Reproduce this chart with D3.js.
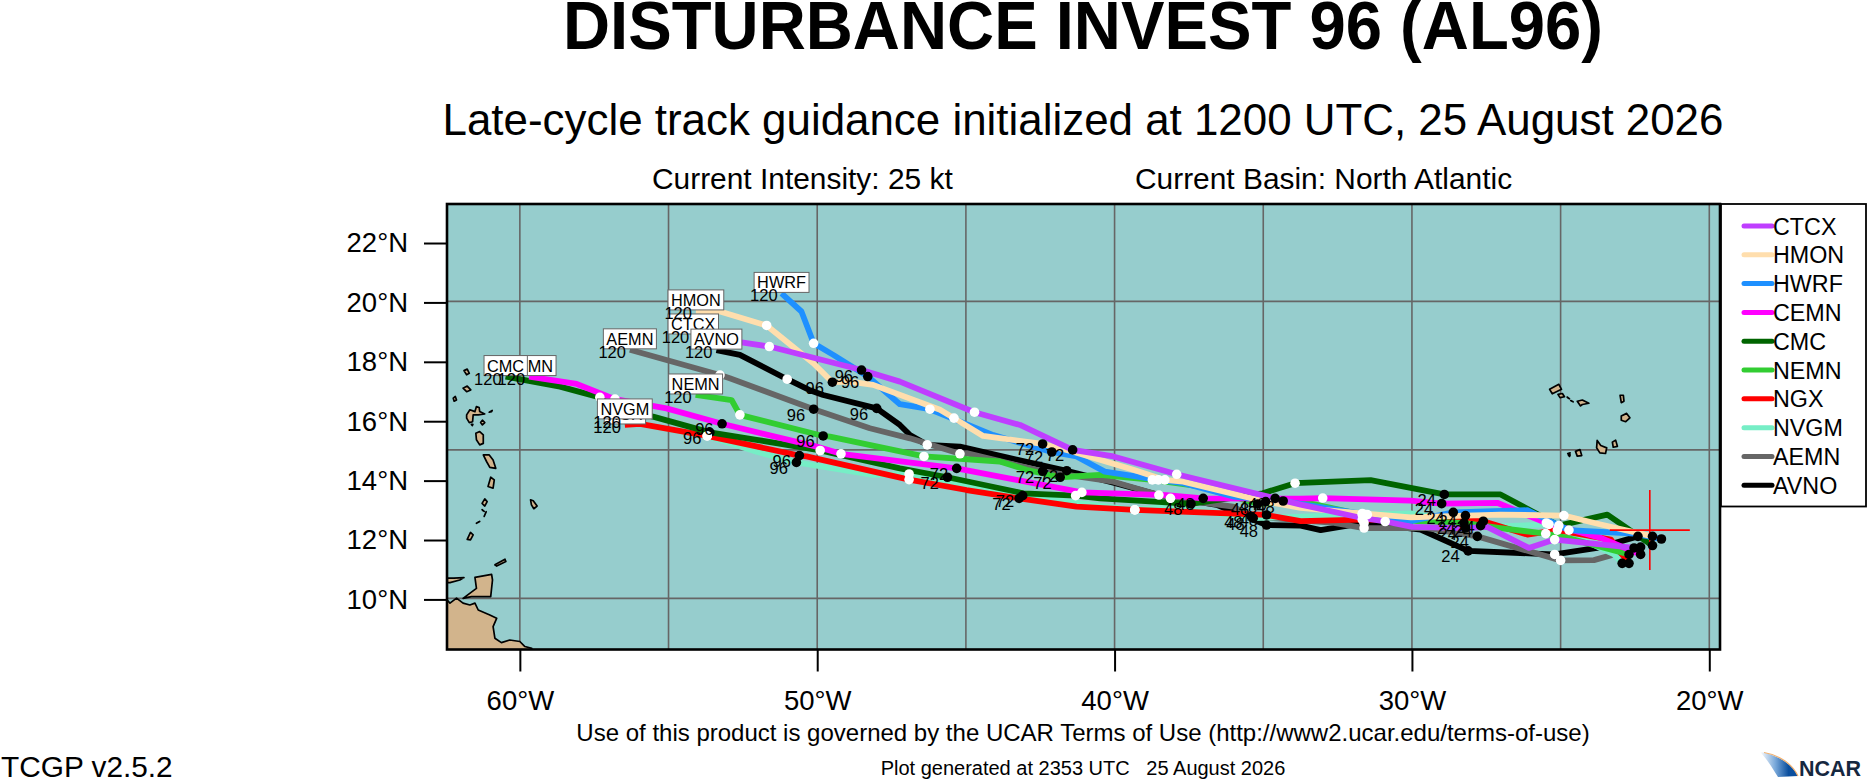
<!DOCTYPE html>
<html>
<head>
<meta charset="utf-8">
<title>DISTURBANCE INVEST 96 (AL96)</title>
<script src="https://cdn.jsdelivr.net/npm/d3@7"></script>
<style>
    html, body { margin: 0; padding: 0; background: #fff; overflow: hidden; }
    text { font-family: "Liberation Sans", Arial, sans-serif; fill: #000; white-space: pre; }
</style>
</head>
<body>
<div id="chart"></div>
<script>
// models, in legend order
const models = ["CTCX", "HMON", "HWRF", "CEMN", "CMC", "NEMN", "NGX", "NVGM", "AEMN", "AVNO"];
const modelColors = ["#bf3eff", "#ffdead", "#1e90ff", "#ff00ff", "#006400", "#32cd32", "#ff0000", "#76eec6", "#666666", "#000000"];

const lonTicks = [-60, -50, -40, -30, -20];
const latTicks = [10, 12, 14, 16, 18, 20, 22];
const lonGrid = [-60, -55, -50, -45, -40, -35, -30, -25, -20];
const latGrid = [10, 15, 20];
const stormCenter = [-22.0, 12.3];

// each track: [forecast hour (null = plain vertex), lon, lat]
const trackCTCX = [[0,-22.53,11.70],[12,-25.2,11.98],[null,-26.07,11.70],[null,-27.47,12.41],[24,-28.2,12.37],[null,-29.99,12.41],[36,-30.9,12.59],[null,-31.84,12.74],[null,-33.74,13.16],[48,-34.6,13.37],[60,-37.91,14.18],[null,-40.04,14.78],[72,-41.41,15.0],[null,-43.18,15.84],[84,-44.71,16.27],[null,-47.22,17.3],[96,-48.51,17.69],[108,-51.61,18.48],[null,-52.49,18.61],[120,-54.17,18.87]];
const trackHMON = [[0,-21.91,12.09],[null,-23.65,12.49],[12,-24.89,12.79],[null,-27.02,12.82],[24,-28.2,12.79],[null,-30.04,12.73],[36,-31.67,12.86],[null,-33.74,13.05],[48,-34.92,13.26],[null,-37.69,13.93],[60,-38.31,13.99],[null,-39.37,14.33],[null,-41.39,14.94],[72,-42.42,15.2],[null,-44.42,15.47],[84,-45.4,16.07],[null,-45.87,16.35],[null,-48.12,17.19],[null,-48.9,17.3],[96,-49.49,17.28],[null,-50.13,17.92],[108,-51.7,19.19],[null,-53.27,19.66],[120,-54.08,19.68]];
const trackHWRF = [[0,-21.61,12.0],[null,-22.53,12.18],[12,-24.72,12.30],[null,-26.12,12.97],[24,-28.61,12.90],[null,-30.04,12.6],[36,-31.5,12.82],[48,-34.33,13.28],[null,-36.01,13.43],[null,-37.69,13.88],[60,-38.53,13.99],[null,-40.33,14.27],[null,-41.28,14.78],[72,-42.11,14.93],[null,-44.08,15.5],[84,-46.21,16.37],[null,-47.22,16.54],[96,-48.3,17.47],[null,-49.46,18.2],[108,-50.12,18.59],[null,-50.53,19.66],[120,-51.2,20.27]];
const trackCEMN = [[0,-22.31,11.48],[null,-23.65,12.04],[12,-25.48,12.54],[null,-27.13,13.22],[24,-29.0,13.19],[null,-30.04,13.29],[36,-33.0,13.38],[null,-33.74,13.36],[48,-37.02,13.37],[null,-38.25,13.48],[60,-41.1,13.57],[null,-43.3,13.99],[72,-45.31,14.38],[84,-49.2,14.87],[null,-50.02,15.11],[96,-53.2,15.88],[null,-55.07,16.4],[108,-56.8,16.71],[null,-58.09,17.22],[120,-59.69,17.47]];
const trackCMC = [[0,-21.91,11.78],[null,-23.43,12.82],[12,-25.06,12.45],[null,-27.02,13.5],[24,-28.91,13.5],[null,-31.39,13.98],[36,-33.93,13.88],[null,-35.02,13.54],[48,-37.43,13.18],[null,-40.49,13.37],[60,-41.31,13.46],[null,-43.07,13.54],[72,-45.62,14.08],[null,-47.22,14.38],[84,-49.9,14.98],[null,-50.36,15.06],[null,-52.04,15.34],[96,-53.61,15.59],[null,-55.52,16.12],[108,-57.31,16.77],[null,-58.65,17.13],[120,-60.48,17.47]];
const trackNEMN = [[0,-22.70,11.48],[null,-24.78,12.04],[12,-25.5,12.18],[null,-27.02,12.37],[24,-28.25,12.54],[null,-29.82,12.6],[36,-31.67,12.82],[null,-33.74,13.27],[48,-35.19,13.18],[null,-37.13,13.77],[60,-38.73,13.99],[null,-40.49,14.16],[72,-41.83,14.08],[null,-42.96,14.33],[null,-43.86,14.61],[84,-46.41,14.78],[null,-49.57,15.45],[96,-49.8,15.47],[null,-52.38,16.12],[108,-52.6,16.18],[null,-52.88,16.68],[120,-54.09,16.85]];
const trackNGX = [[0,-22.70,11.18],[null,-23.31,11.98],[12,-25.11,12.30],[null,-26.12,12.15],[24,-27.6,12.6],[null,-29.82,12.65],[36,-31.67,12.65],[null,-33.74,12.6],[48,-34.89,12.81],[60,-39.32,12.98],[null,-41.28,13.09],[72,-43.21,13.37],[null,-44.98,13.65],[84,-46.91,14.0],[null,-50.36,14.78],[96,-50.6,14.81],[108,-53.7,15.47],[null,-55.96,15.88],[120,-56.47,15.84]];
const trackNVGM = [[0,-22.93,11.18],[null,-23.2,11.48],[12,-25.39,12.49],[null,-26.9,12.43],[24,-27.69,12.45],[null,-30.04,12.86],[36,-31.56,12.82],[48,-35.34,12.7],[null,-38.25,13.09],[60,-39.32,12.98],[null,-41.61,13.26],[72,-43.09,13.46],[84,-46.91,14.19],[null,-48.12,14.16],[null,-50.13,14.49],[96,-50.7,14.58],[null,-52.04,14.94],[108,-53.7,15.47],[null,-55.96,15.88],[120,-56.47,16.01]];
const trackAEMN = [[0,-22.31,11.73],[null,-23.88,11.29],[12,-25.0,11.28],[24,-27.8,12.09],[null,-29.48,12.37],[36,-31.61,12.37],[null,-32.62,12.54],[48,-35.41,12.76],[null,-36.01,13.09],[60,-38.12,13.37],[null,-40.04,13.93],[72,-42.42,14.28],[null,-44.98,14.89],[84,-45.2,14.87],[null,-46.88,15.39],[null,-48.23,15.73],[96,-50.12,16.37],[null,-52.94,17.41],[108,-53.27,17.52],[120,-56.3,18.37]];
const trackAVNO = [[0,-22.40,12.09],[null,-23.77,11.70],[12,-25.2,11.48],[null,-25.9,11.51],[24,-28.11,11.6],[null,-29.71,12.32],[36,-31.61,12.54],[null,-33.07,12.3],[null,-33.74,12.45],[48,-34.89,12.47],[null,-36.57,13.15],[60,-38.51,13.48],[null,-40.04,13.9],[72,-41.61,14.3],[null,-43.63,14.75],[null,-45.2,15.11],[84,-46.3,15.17],[null,-46.88,15.5],[null,-47.22,15.84],[96,-48.0,16.4],[null,-49.8,16.85],[null,-50.27,17.02],[108,-51.01,17.38],[null,-52.6,18.2],[120,-53.39,18.36]];
const tracks = [trackCTCX, trackHMON, trackHWRF, trackCEMN, trackCMC, trackNEMN, trackNGX, trackNVGM, trackAEMN, trackAVNO];

// coastlines, [lon, lat]
const landAntilles = [
    [[-61.88,17.67],[-61.77,17.72],[-61.70,17.58],[-61.79,17.53]],
    [[-61.91,17.08],[-61.77,17.15],[-61.65,17.02],[-61.79,16.96]],
    [[-62.24,16.74],[-62.17,16.8],[-62.13,16.68],[-62.21,16.64]],
    [[-61.79,16.18],[-61.68,16.35],[-61.51,16.29],[-61.46,16.46],[-61.37,16.43],[-61.35,16.29],[-61.18,16.21],[-61.4,16.18],[-61.57,16.18],[-61.59,15.95],[-61.70,15.92],[-61.79,16.07]],
    [[-61.32,15.92],[-61.26,16.0],[-61.18,15.92],[-61.26,15.84]],
    [[-61.63,15.86],[-61.58,15.86],[-61.6,15.82]],
    [[-61.03,16.27],[-60.93,16.33],[-60.95,16.29]],
    [[-61.48,15.56],[-61.35,15.62],[-61.23,15.51],[-61.23,15.22],[-61.35,15.17],[-61.46,15.34]],
    [[-61.23,14.83],[-61.03,14.83],[-60.9,14.66],[-60.81,14.38],[-61.01,14.41],[-61.12,14.61]],
    [[-61.07,13.77],[-60.98,14.08],[-60.86,13.99],[-60.9,13.71]],
    [[-61.27,13.2],[-61.18,13.35],[-61.1,13.26],[-61.18,13.11]],
    [[-61.27,12.99],[-61.2,12.93],[-61.23,12.95]],
    [[-61.13,12.92],[-61.2,12.76],[-61.16,12.85]],
    [[-61.35,12.59],[-61.46,12.53],[-61.4,12.57]],
    [[-61.77,11.99],[-61.66,12.22],[-61.57,12.14],[-61.66,11.97]],
    [[-59.64,13.32],[-59.55,13.29],[-59.42,13.11],[-59.53,13.02],[-59.61,13.15]],
    [[-60.84,11.13],[-60.5,11.32],[-60.47,11.24],[-60.78,11.09]],
    [[-61.51,10.71],[-60.95,10.81],[-60.92,10.62],[-60.98,10.06],[-61.63,10.06],[-61.91,10.0],[-61.46,10.34]],
    [[-62.44,10.68],[-62.22,10.68],[-61.88,10.7],[-62.02,10.62],[-62.35,10.53],[-62.44,10.53]],
    [[-62.47,9.97],[-62.35,9.84],[-62.13,10.01],[-61.91,9.84],[-61.68,9.78],[-61.51,9.84],[-61.4,9.61],[-61.01,9.44],[-60.78,9.33],[-60.9,9.05],[-60.84,8.66],[-60.62,8.51],[-60.34,8.6],[-60.0,8.55],[-59.83,8.38],[-59.6,8.32],[-59.6,8.0],[-63,8.0],[-63,9.97]]
];
const landCapeVerde = [
    [[-25.37,17.04],[-25.06,17.21],[-24.97,17.04],[-25.28,16.89]],
    [[-25.09,16.87],[-24.94,16.9],[-24.87,16.79],[-25.02,16.76]],
    [[-24.78,16.78],[-24.7,16.72],[-24.75,16.75]],
    [[-24.66,16.66],[-24.58,16.62],[-24.62,16.64]],
    [[-24.44,16.64],[-24.27,16.68],[-24.05,16.57],[-24.27,16.53],[-24.33,16.48]],
    [[-23.0,16.84],[-22.89,16.84],[-22.87,16.64],[-22.96,16.59]],
    [[-22.96,16.14],[-22.78,16.23],[-22.67,16.08],[-22.81,15.95],[-22.96,16.0]],
    [[-23.26,15.26],[-23.15,15.33],[-23.09,15.12],[-23.23,15.09]],
    [[-23.77,15.32],[-23.65,15.15],[-23.45,15.07],[-23.49,14.88],[-23.68,14.9],[-23.79,15.07]],
    [[-24.5,14.95],[-24.35,15.01],[-24.29,14.81],[-24.44,14.79]],
    [[-24.76,14.88],[-24.68,14.9],[-24.72,14.84]],
    [[-24.74,14.83],[-24.68,14.83],[-24.7,14.78]]
];

const width = 1867, height = 780;
const frame = { left: 447, right: 1720, top: 204, bottom: 649.5 };

const x = d3.scaleLinear().domain([-62.45, -19.64]).range([frame.left, frame.right]);
const y = d3.scaleLinear().domain([8.28, 23.28]).range([frame.bottom, frame.top]);

const svg = d3.select("#chart").append("svg")
    .attr("width", width)
    .attr("height", height)
    .style("display", "block");

const defs = svg.append("defs");
defs.append("clipPath").attr("id", "plotClip").append("rect")
    .attr("x", frame.left).attr("y", frame.top)
    .attr("width", frame.right - frame.left).attr("height", frame.bottom - frame.top);
const logoGrad = defs.append("linearGradient").attr("id", "logoGrad");
logoGrad.append("stop").attr("offset", "0%").attr("stop-color", "#ffffff");
logoGrad.append("stop").attr("offset", "40%").attr("stop-color", "#7aa9da");
logoGrad.append("stop").attr("offset", "75%").attr("stop-color", "#0b4f9e");

// titles
function addText(str, px, py, size, anchor, weight) {
    return svg.append("text")
        .attr("x", px).attr("y", py)
        .attr("text-anchor", anchor || "start")
        .attr("font-weight", weight || "normal")
        .style("font-size", size + "px")
        .text(str);
}
addText("DISTURBANCE INVEST 96 (AL96)", 1083, 49, 68, "middle", "bold")
    .attr("textLength", 1040).attr("lengthAdjust", "spacingAndGlyphs");
addText("Late-cycle track guidance initialized at 1200 UTC, 25 August 2026", 1083, 135, 43.9, "middle");
addText("Current Intensity: 25 kt", 652, 189, 29.9, "start");
addText("Current Basin: North Atlantic", 1135, 189, 29.9, "start");
addText("Use of this product is governed by the UCAR Terms of Use (http://www2.ucar.edu/terms-of-use)", 1083, 741, 24, "middle");
addText("TCGP v2.5.2", 1, 777, 29.8, "start");
addText("Plot generated at 2353 UTC   25 August 2026", 1083, 775, 20, "middle");

// ocean
svg.append("rect")
    .attr("x", frame.left).attr("y", frame.top)
    .attr("width", frame.right - frame.left).attr("height", frame.bottom - frame.top)
    .attr("fill", "#96cdcd");

const plot = svg.append("g").attr("clip-path", "url(#plotClip)");

// grid
plot.selectAll(".gridLon").data(lonGrid).enter().append("line")
    .attr("x1", d => x(d)).attr("x2", d => x(d))
    .attr("y1", frame.top).attr("y2", frame.bottom)
    .attr("stroke", "#666").attr("stroke-width", 1.6);
plot.selectAll(".gridLat").data(latGrid).enter().append("line")
    .attr("x1", frame.left).attr("x2", frame.right)
    .attr("y1", d => y(d)).attr("y2", d => y(d))
    .attr("stroke", "#666").attr("stroke-width", 1.6);

// land
const coast = d3.line().x(d => x(d[0])).y(d => y(d[1])).curve(d3.curveLinearClosed);
plot.selectAll(".land").data(landAntilles.concat(landCapeVerde)).enter().append("path")
    .attr("d", coast)
    .attr("fill", "#d2b48c")
    .attr("stroke", "#000")
    .attr("stroke-width", 1.7)
    .attr("stroke-linejoin", "round");

// tracks, last legend entry at the bottom
const trackLine = d3.line().x(d => x(d[1])).y(d => y(d[2]));
const order = d3.range(models.length).reverse();
plot.selectAll(".track").data(order).enter().append("path")
    .attr("d", i => trackLine(tracks[i]))
    .attr("fill", "none")
    .attr("stroke", i => modelColors[i])
    .attr("stroke-width", 5.8)
    .attr("stroke-linejoin", "round");

// current position
plot.append("line")
    .attr("x1", x(stormCenter[0]) - 40).attr("x2", x(stormCenter[0]) + 40)
    .attr("y1", y(stormCenter[1])).attr("y2", y(stormCenter[1]))
    .attr("stroke", "#ff0000").attr("stroke-width", 1.6);
plot.append("line")
    .attr("x1", x(stormCenter[0])).attr("x2", x(stormCenter[0]))
    .attr("y1", y(stormCenter[1]) - 40).attr("y2", y(stormCenter[1]) + 40)
    .attr("stroke", "#ff0000").attr("stroke-width", 1.6);

// 12-hourly markers, black every 24 h, white in between
const markers = d3.merge(tracks).filter(d => d[0] !== null && d[0] < 120);
plot.selectAll(".dotBlack").data(markers.filter(d => d[0] % 24 === 0)).enter().append("circle")
    .attr("cx", d => x(d[1])).attr("cy", d => y(d[2])).attr("r", 4.8).attr("fill", "#000");
plot.selectAll(".dotWhite").data(markers.filter(d => d[0] % 24 !== 0)).enter().append("circle")
    .attr("cx", d => x(d[1])).attr("cy", d => y(d[2])).attr("r", 4.8).attr("fill", "#fff");

// name boxes at the end of each track
const ends = tracks.map((t, i) => ({ name: models[i], lon: t[t.length - 1][1], lat: t[t.length - 1][2] }));
const box = plot.selectAll(".endBox").data(ends).enter().append("g")
    .attr("transform", d => "translate(" + x(d.lon) + "," + (y(d.lat) - 11) + ")");
box.append("text")
    .attr("text-anchor", "middle").attr("y", 6)
    .style("font-size", "16.3px")
    .text(d => d.name);
box.insert("rect", "text")
    .each(function () {
        const b = this.parentNode.querySelector("text").getBBox();
        d3.select(this)
            .attr("x", b.x - 3).attr("width", b.width + 6)
            .attr("y", -10).attr("height", 20);
    })
    .attr("fill", "#fff").attr("stroke", "#666").attr("stroke-width", 1);

// forecast hour labels
plot.selectAll(".hourLabel").data(d3.merge(tracks).filter(d => d[0] !== null && d[0] > 0 && d[0] % 24 === 0)).enter().append("text")
    .attr("x", d => x(d[1]) - 17.7)
    .attr("y", d => y(d[2]) + (d[0] === 120 ? 8 : 11.5))
    .attr("text-anchor", "middle")
    .style("font-size", "16.5px")
    .text(d => d[0]);

// frame and axes
svg.append("rect")
    .attr("x", frame.left).attr("y", frame.top)
    .attr("width", frame.right - frame.left).attr("height", frame.bottom - frame.top)
    .attr("fill", "none").attr("stroke", "#000").attr("stroke-width", 2.6);

const xAxis = d3.axisBottom(x).tickValues(lonTicks).tickSize(22).tickPadding(19)
    .tickFormat(d => Math.abs(d) + "°W");
const yAxis = d3.axisLeft(y).tickValues(latTicks).tickSize(23).tickPadding(16)
    .tickFormat(d => d + "°N");
const gx = svg.append("g").attr("transform", "translate(0," + frame.bottom + ")").call(xAxis);
const gy = svg.append("g").attr("transform", "translate(" + frame.left + ",1)").call(yAxis);
[gx, gy].forEach(g => {
    g.select(".domain").remove();
    g.selectAll("line").attr("stroke", "#000").attr("stroke-width", 2);
    g.selectAll("text").attr("fill", "#000")
        .style("font-size", "27.5px")
        .style("font-family", "'Liberation Sans', Arial, sans-serif");
});

// legend
const legend = svg.append("g");
legend.append("rect")
    .attr("x", 1721).attr("y", 204).attr("width", 145).attr("height", 302.5)
    .attr("fill", "#fff").attr("stroke", "#000").attr("stroke-width", 1.8);
const legendY = d3.scalePoint().domain(models).range([226, 485.3]);
legend.selectAll(".legLine").data(models).enter().append("line")
    .attr("x1", 1744).attr("x2", 1772)
    .attr("y1", d => legendY(d)).attr("y2", d => legendY(d))
    .attr("stroke", (d, i) => modelColors[i])
    .attr("stroke-width", 5)
    .attr("stroke-linecap", "round");
legend.selectAll(".legText").data(models).enter().append("text")
    .attr("x", 1773)
    .attr("y", d => legendY(d) + 8.5)
    .style("font-size", "23.3px")
    .text(d => d);

// NCAR logo
const logo = svg.append("g");
logo.append("path")
    .attr("d", "M1760,752 C1778,755 1792,764 1798,776 L1778,777 C1772,768 1768,760 1760,752 Z")
    .attr("fill", "url(#logoGrad)");
logo.append("path")
    .attr("d", "M1764,752.5 C1780,755 1793,765 1798,776")
    .attr("fill", "none").attr("stroke", "#f0b070").attr("stroke-width", 1.2);
logo.append("text")
    .attr("x", 1799).attr("y", 776)
    .attr("font-weight", "bold")
    .style("font-size", "21.5px")
    .style("fill", "#16283f")
    .text("NCAR");
</script>
</body>
</html>
